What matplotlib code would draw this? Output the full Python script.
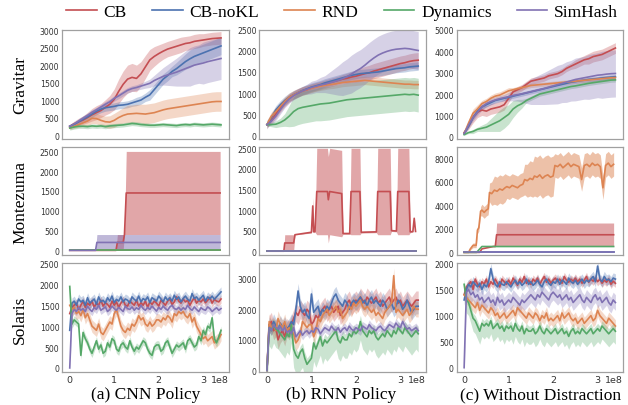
#! /usr/bin/env python3
import numpy as np
import matplotlib
matplotlib.use("Agg")
import matplotlib.pyplot as plt

methods = ["CB", "CB-noKL", "RND", "Dynamics", "SimHash"]
colors = ["#C44E52", "#4C72B0", "#DD8452", "#55A868", "#8172B3"]
games = ["Gravitar", "Montezuma", "Solaris"]
settings = ["(a) CNN Policy", "(b) RNN Policy", "(c) Without Distraction"]

# training steps, in units of 1e8
steps_coarse = np.linspace(0.0, 3.4, 35)
steps_fine = np.linspace(0.0, 3.4, 69)

# ---------------- Gravitar ----------------
grav_cnn = {
    "CB": [250, 320, 380, 430, 500, 580, 640, 700, 790, 880,
           1020, 1250, 1450, 1600, 1650, 1620, 1750, 1950, 2150, 2250,
           2330, 2400, 2460, 2500, 2540, 2580, 2620, 2640, 2680, 2700,
           2720, 2740, 2760, 2770, 2780],
    "CB-noKL": [250, 300, 380, 450, 520, 600, 680, 740, 780, 800,
                820, 850, 860, 880, 920, 960, 1000, 1080, 1150, 1300,
                1450, 1600, 1700, 1820, 1900, 2000, 2100, 2180, 2250, 2300,
                2350, 2400, 2450, 2500, 2550],
    "RND": [200, 250, 300, 350, 400, 480, 470, 420, 380, 370,
            420, 500, 560, 600, 610, 620, 610, 600, 620, 640,
            680, 720, 750, 770, 790, 810, 830, 850, 870, 890,
            910, 930, 950, 960, 960],
    "Dynamics": [200, 230, 250, 250, 240, 260, 250, 260, 240, 260,
                 270, 280, 290, 310, 330, 320, 300, 290, 280, 280,
                 290, 300, 290, 280, 270, 290, 300, 290, 310, 300,
                 290, 300, 310, 300, 290],
    "SimHash": [250, 320, 400, 480, 560, 650, 720, 800, 880, 950,
                1050, 1120, 1200, 1280, 1330, 1360, 1400, 1440, 1480, 1560,
                1620, 1680, 1720, 1760, 1800, 1850, 1900, 1950, 2000, 2030,
                2060, 2100, 2130, 2160, 2190],
}
grav_cnn_std = {
    "CB": [50, 80, 100, 120, 150, 180, 200, 200, 220, 250,
           300, 350, 380, 400, 400, 380, 350, 330, 300, 280,
           250, 230, 220, 220, 220, 220, 200, 200, 200, 200,
           180, 180, 180, 180, 180],
    "CB-noKL": [50, 60, 80, 100, 100, 100, 100, 100, 100, 100,
                100, 100, 100, 100, 100, 120, 120, 120, 150, 150,
                150, 150, 150, 150, 180, 200, 220, 250, 250, 250,
                250, 250, 250, 250, 250],
    "RND": [40, 60, 80, 100, 130, 150, 150, 150, 160, 180,
            200, 200, 220, 250, 250, 260, 270, 280, 280, 280,
            280, 280, 280, 280, 280, 280, 280, 280, 280, 280,
            280, 280, 280, 280, 280],
    "Dynamics": 60,
    "SimHash": [40, 50, 60, 60, 60, 70, 70, 80, 80, 80,
                80, 80, 80, 80, 80, 80, 90, 100, 120, 150,
                200, 250, 300, 350, 400, 450, 500, 550, 550, 550,
                600, 600, 600, 600, 600],
}

grav_rnn = {
    "CB": [250, 350, 500, 650, 780, 880, 950, 1000, 1050, 1080,
           1120, 1150, 1180, 1210, 1240, 1270, 1300, 1330, 1350, 1380,
           1400, 1430, 1460, 1480, 1520, 1550, 1580, 1610, 1640, 1670,
           1700, 1720, 1750, 1770, 1780],
    "CB-noKL": [250, 420, 600, 720, 820, 900, 960, 1010, 1060, 1100,
                1140, 1170, 1200, 1240, 1270, 1300, 1330, 1360, 1390, 1420,
                1440, 1460, 1470, 1480, 1490, 1500, 1520, 1540, 1560, 1580,
                1590, 1600, 1620, 1630, 1640],
    "RND": [250, 450, 560, 680, 800, 900, 960, 1010, 1050, 1080,
            1110, 1140, 1160, 1180, 1200, 1210, 1230, 1250, 1260, 1270,
            1280, 1290, 1300, 1290, 1280, 1270, 1260, 1250, 1240, 1230,
            1220, 1210, 1210, 1200, 1200],
    "Dynamics": [250, 250, 260, 300, 360, 450, 560, 630, 660, 680,
                 700, 720, 740, 750, 760, 780, 800, 820, 840, 850,
                 860, 870, 880, 890, 900, 910, 920, 930, 940, 950,
                 960, 970, 960, 970, 950],
    "SimHash": [250, 330, 450, 600, 750, 860, 940, 1000, 1050, 1090,
                1130, 1160, 1190, 1210, 1240, 1270, 1300, 1340, 1390, 1450,
                1520, 1580, 1660, 1750, 1830, 1900, 1950, 1990, 2020, 2040,
                2050, 2060, 2050, 2030, 2010],
}
grav_rnn_std = {
    "CB": [60, 80, 100, 100, 100, 100, 100, 100, 100, 100,
           100, 100, 100, 100, 100, 100, 100, 110, 120, 130,
           150, 160, 170, 180, 180, 180, 180, 180, 180, 180,
           180, 180, 180, 180, 180],
    "CB-noKL": 100,
    "RND": 100,
    "Dynamics": [30, 50, 80, 100, 150, 250, 350, 380, 380, 380,
                 380, 380, 400, 400, 400, 400, 400, 400, 400, 400,
                 400, 400, 400, 400, 400, 400, 400, 400, 400, 400,
                 400, 400, 400, 400, 400],
    "SimHash": [60, 80, 100, 100, 100, 100, 100, 100, 100, 120,
                150, 150, 180, 200, 250, 300, 350, 400, 420, 450,
                450, 450, 450, 450, 450, 450, 450, 450, 450, 450,
                450, 450, 450, 450, 450],
}

grav_nodist = {
    "CB": [200, 500, 900, 1150, 1250, 1200, 1300, 1350, 1400, 1500,
           1800, 2100, 2200, 2300, 2450, 2600, 2650, 2700, 2750, 2850,
           2900, 2950, 3050, 3200, 3300, 3400, 3500, 3600, 3650, 3750,
           3800, 3850, 3950, 4050, 4150],
    "CB-noKL": [150, 500, 900, 1200, 1400, 1500, 1600, 1700, 1750, 1800,
                1850, 1900, 1950, 2000, 2050, 2100, 2150, 2200, 2250, 2300,
                2350, 2400, 2450, 2500, 2550, 2580, 2620, 2650, 2680, 2700,
                2720, 2750, 2770, 2790, 2810],
    "RND": [150, 650, 1100, 1300, 1550, 1650, 1800, 1900, 1950, 2050,
            2150, 2200, 2250, 2300, 2350, 2400, 2420, 2440, 2460, 2480,
            2500, 2520, 2540, 2560, 2580, 2600, 2620, 2640, 2660, 2680,
            2700, 2720, 2740, 2760, 2770],
    "Dynamics": [100, 200, 250, 350, 400, 450, 550, 650, 750, 900,
                 1050, 1300, 1450, 1550, 1700, 1800, 1900, 2000, 2050, 2100,
                 2150, 2200, 2250, 2300, 2350, 2380, 2420, 2460, 2500, 2530,
                 2560, 2590, 2620, 2650, 2660],
    "SimHash": [150, 550, 900, 1150, 1400, 1550, 1650, 1720, 1780, 1830,
                1880, 1930, 1970, 2010, 2060, 2110, 2160, 2210, 2260, 2320,
                2380, 2440, 2500, 2560, 2620, 2680, 2720, 2760, 2800, 2840,
                2880, 2900, 2930, 2950, 2960],
}
grav_nodist_std = {
    "CB": [50, 150, 250, 250, 250, 250, 250, 250, 250, 250,
           200, 150, 150, 150, 150, 150, 150, 150, 150, 150,
           150, 150, 150, 150, 150, 200, 200, 200, 250, 250,
           250, 250, 250, 250, 250],
    "CB-noKL": 100,
    "RND": [50, 150, 200, 200, 150, 150, 150, 150, 150, 150,
            150, 100, 100, 100, 100, 100, 100, 100, 100, 100,
            100, 100, 100, 100, 100, 100, 100, 100, 100, 100,
            100, 100, 100, 100, 100],
    "Dynamics": [30, 50, 100, 100, 150, 200, 300, 400, 500, 500,
                 450, 400, 300, 200, 100, 100, 100, 100, 100, 100,
                 100, 100, 100, 100, 100, 100, 100, 100, 100, 100,
                 100, 100, 100, 100, 100],
    "SimHash": [50, 100, 150, 150, 150, 150, 150, 150, 150, 150,
                200, 250, 300, 400, 500, 600, 650, 700, 750, 800,
                850, 900, 900, 950, 950, 1000, 1000, 1000, 1050, 1050,
                1050, 1100, 1100, 1100, 1100],
}

# ---------------- Montezuma (step-like curves, own x per method) ----------------
mont_cnn_x = {
    "CB": [0, 1.04, 1.07, 1.20, 1.23, 1.27, 3.38],
    "CB-noKL": [0, 3.38], "RND": [0, 3.38], "Dynamics": [0, 3.38],
    "SimHash": [0, 0.58, 0.61, 3.38],
}
mont_cnn = {
    "CB": [0, 0, 200, 200, 400, 1450, 1450],
    "CB-noKL": [0, 0], "RND": [0, 0], "Dynamics": [0, 0],
    "SimHash": [0, 0, 200, 200],
}
mont_cnn_std = {
    "CB": [0, 0, 200, 200, 0, 1050, 1050],
    "CB-noKL": 0, "RND": 0, "Dynamics": 0,
    "SimHash": [0, 0, 200, 200],
}

mont_rnn_x = {
    "CB": [0, 0.38, 0.40, 0.60, 0.63, 1.00, 1.03, 1.05, 1.08, 1.12,
           1.36, 1.38, 1.41, 1.68, 1.71, 1.86, 1.89, 2.09, 2.12, 2.46,
           2.49, 2.77, 2.80, 2.91, 2.94, 3.19, 3.22, 3.28, 3.31, 3.34],
    "CB-noKL": [0, 3.34], "RND": [0, 3.34], "Dynamics": [0, 3.34],
    "SimHash": [0, 3.34],
}
mont_rnn = {
    "CB": [0, 0, 200, 200, 400, 460, 1100, 470, 480, 1450,
           1450, 1250, 1450, 1400, 430, 430, 1450, 1450, 460, 470,
           1450, 1450, 500, 490, 1450, 1450, 470, 480, 800, 480],
    "CB-noKL": [0, 0], "RND": [0, 0], "Dynamics": [0, 0], "SimHash": [0, 0],
}
mont_rnn_std = {
    "CB": [0, 0, 200, 200, 0, 20, 200, 20, 20, 1050,
           1050, 1050, 1050, 1050, 20, 20, 1050, 1050, 20, 20,
           1050, 1050, 20, 20, 1050, 1050, 20, 20, 20, 20],
    "CB-noKL": 0, "RND": 0, "Dynamics": 0, "SimHash": 0,
}

mont_nodist_x = {
    "CB": [0, 0.35, 0.40, 0.66, 0.70, 0.73, 3.36],
    "CB-noKL": [0, 3.36],
    "RND": [0, 0.10, 0.14, 0.20, 0.27, 0.30, 0.33, 0.37, 0.40, 0.45,
            0.50, 0.54, 0.57, 0.62, 0.68, 0.74, 0.80, 0.86, 0.92, 0.96,
            1.02, 1.08, 1.14, 1.20, 1.26, 1.32, 1.36, 1.42, 1.48, 1.54,
            1.58, 1.64, 1.70, 1.76, 1.82, 1.88, 1.94, 2.00, 2.04, 2.10,
            2.16, 2.22, 2.28, 2.34, 2.40, 2.46, 2.52, 2.58, 2.64, 2.70,
            2.76, 2.82, 2.88, 2.94, 3.00, 3.06, 3.12, 3.18, 3.24, 3.30,
            3.36],
    "Dynamics": [0, 0.28, 0.40, 3.36],
    "SimHash": [0, 3.36],
}
mont_nodist = {
    "CB": [0, 0, 300, 500, 500, 1500, 1500],
    "CB-noKL": [0, 0],
    "RND": [0, 0, 300, 600, 600, 1900, 2100, 3500, 3600, 3400,
            3600, 3700, 5100, 5000, 5300, 5200, 5400, 5300, 5500, 5600,
            5500, 5700, 5600, 5500, 5700, 5800, 6200, 6100, 6300, 6200,
            6500, 6400, 6600, 6300, 6500, 6600, 6400, 6500, 7400, 7300,
            7500, 7200, 7400, 7600, 7300, 7500, 7400, 7300, 6200, 7400,
            7500, 7300, 7600, 7400, 7500, 7300, 5500, 7400, 7600, 7300,
            7500],
    "Dynamics": [0, 0, 500, 500],
    "SimHash": [0, 0],
}
mont_nodist_std = {
    "CB": [0, 0, 0, 0, 0, 1000, 1000],
    "CB-noKL": 0,
    "RND": [0, 0, 100, 200, 200, 300, 300, 400, 500, 500,
            500, 500, 800, 1000, 1200, 1200, 1200, 1200, 1200, 1000,
            1000, 1000, 1000, 1000, 1000, 1000, 1300, 1400, 1500, 1500,
            1700, 1700, 1700, 1700, 1700, 1700, 1700, 1700, 1000, 1000,
            1000, 1000, 1000, 1000, 1000, 1000, 1000, 1000, 1000, 1000,
            1000, 1000, 1000, 1000, 1000, 1000, 1000, 1000, 1000, 1000,
            1000],
    "Dynamics": 0,
    "SimHash": 0,
}

# ---------------- Solaris (noisy) ----------------
sol_cnn = {
    "CB": [1300, 1450, 1500, 1550, 1400, 1500, 1600, 1450, 1550, 1500,
           1600, 1450, 1550, 1500, 1620, 1480, 1560, 1520, 1450, 1600,
           1500, 1580, 1450, 1550, 1620, 1500, 1480, 1600, 1550, 1500,
           1620, 1480, 1560, 1500, 1600, 1450, 1580, 1520, 1600, 1550,
           1480, 1620, 1560, 1500, 1600, 1650, 1520, 1580, 1700, 1600,
           1550, 1650, 1580, 1620, 1500, 1600, 1680, 1550, 1620, 1580,
           1650, 1560, 1620, 1680, 1550, 1640, 1600, 1580, 1650],
    "CB-noKL": [900, 1550, 1600, 1500, 1650, 1580, 1620, 1500, 1680, 1550,
                1600, 1650, 1520, 1700, 1580, 1620, 1550, 1680, 1600, 1720,
                1560, 1640, 1600, 1700, 1580, 1650, 1620, 1550, 1700, 1640,
                1600, 1720, 1580, 1660, 1620, 1700, 1560, 1680, 1640, 1600,
                1720, 1650, 1580, 1700, 1620, 1680, 1600, 1740, 1640, 1700,
                1580, 1660, 1720, 1640, 1600, 1780, 1660, 1700, 1620, 1680,
                1740, 1600, 1700, 1650, 1720, 1640, 1700, 1760, 1820],
    "RND": [1500, 1400, 1450, 1300, 1350, 1250, 1400, 1200, 1300, 1150,
            1000, 950, 900, 1050, 850, 800, 900, 1000, 1100, 1050,
            1300, 1400, 1200, 1000, 900, 850, 950, 900, 1050, 1000,
            1100, 1250, 1150, 1200, 1050, 1000, 1100, 1000, 1050, 1150,
            1150, 1100, 1200, 1150, 1250, 1200, 1100, 1300, 1250, 1350,
            1300, 1350, 1250, 1200, 1300, 1100, 1200, 1000, 900, 800,
            700, 750, 650, 700, 750, 600, 650, 700, 800],
    "Dynamics": [1950, 1050, 1150, 1100, 1050, 300, 850, 700, 600, 450,
                 350, 500, 650, 450, 550, 350, 400, 600, 500, 700,
                 650, 450, 400, 550, 600, 500, 450, 650, 500, 400,
                 500, 450, 550, 650, 600, 450, 350, 300, 500, 550,
                 550, 400, 450, 600, 650, 500, 350, 450, 550, 500,
                 550, 600, 450, 650, 700, 600, 500, 550, 750, 650,
                 900, 800, 1000, 950, 1200, 700, 600, 750, 900],
    "SimHash": [0, 1300, 1400, 1350, 1450, 1380, 1420, 1350, 1480, 1400,
                1350, 1450, 1400, 1500, 1380, 1420, 1460, 1350, 1400, 1480,
                1420, 1380, 1450, 1400, 1350, 1480, 1420, 1400, 1460, 1380,
                1440, 1400, 1500, 1420, 1380, 1450, 1400, 1480, 1420, 1360,
                1450, 1400, 1480, 1420, 1380, 1460, 1500, 1420, 1400, 1450,
                1380, 1440, 1400, 1500, 1420, 1380, 1460, 1400, 1350, 1440,
                1400, 1380, 1460, 1420, 1350, 1400, 1440, 1380, 1420],
}
sol_cnn_std = {"CB": 100, "CB-noKL": 120, "RND": 150, "Dynamics": 100, "SimHash": 100}

sol_rnn = {
    "CB": [0, 1500, 1600, 1300, 1400, 1000, 1200, 1300, 1100, 1400,
           1300, 1500, 1700, 1900, 1800, 2000, 1900, 1800, 2000, 1900,
           1500, 1600, 1800, 1700, 1900, 2000, 2100, 1900, 2000, 2100,
           1900, 2000, 2100, 1800, 1900, 2000, 2200, 2300, 2100, 2200,
           2300, 2200, 2400, 2300, 2200, 2400, 2300, 2200, 2300, 2400,
           2200, 2300, 2100, 2200, 2300, 2400, 2200, 2300, 2400, 2200,
           2300, 2100, 2200, 2300, 2200, 2100, 2200, 2300, 2300],
    "CB-noKL": [0, 1500, 1400, 1600, 1450, 1300, 1550, 1400, 1500, 1350,
                1450, 1600, 1500, 2000, 2600, 2100, 1900, 2000, 1800, 1700,
                2500, 1900, 2000, 2100, 1800, 2000, 1900, 2100, 2000, 2200,
                2400, 2500, 2300, 2200, 2100, 2300, 2200, 2000, 2200, 2300,
                2200, 2300, 2400, 2200, 2300, 2100, 2300, 2400, 2200, 2300,
                2200, 2100, 2300, 2200, 2000, 2100, 2200, 2000, 2100, 2300,
                2200, 2000, 2100, 2300, 2100, 1900, 2000, 2100, 2100],
    "RND": [0, 1600, 1400, 1500, 1300, 1700, 1500, 1400, 1600, 1300,
            1400, 1300, 1200, 900, 1000, 1200, 1600, 1500, 1400, 1500,
            1500, 1100, 1300, 1700, 1600, 1800, 1900, 2000, 1800, 1900,
            2000, 2100, 1900, 2000, 1700, 1800, 1900, 2100, 2000, 2200,
            2100, 2200, 2300, 2100, 2000, 2100, 2000, 1900, 2000, 1800,
            1900, 1800, 1700, 1900, 2000, 2100, 2200, 3100, 1900, 2000,
            1900, 1800, 1900, 2000, 1800, 1900, 2100, 2000, 2000],
    "Dynamics": [0, 1400, 1300, 1500, 1350, 1300, 1200, 1100, 1000, 1200,
                 1100, 1500, 700, 500, 400, 600, 700, 400, 200, 300,
                 400, 900, 700, 900, 1100, 800, 1000, 900, 1000, 1100,
                 1200, 1300, 1000, 900, 1100, 1000, 1000, 1200, 1100, 1300,
                 1200, 1300, 1600, 1300, 1200, 1100, 1300, 1200, 1300, 1100,
                 1000, 1100, 1200, 1100, 1300, 1200, 1100, 1300, 1200, 1400,
                 1300, 1200, 1400, 1300, 1200, 1100, 1200, 1300, 1200],
    "SimHash": [0, 1400, 1300, 1500, 1400, 1350, 1450, 1300, 1400, 1250,
                1300, 1200, 1400, 1100, 1200, 1300, 1150, 1250, 1300, 1200,
                1300, 1250, 1400, 1350, 1200, 1300, 1400, 1350, 1300, 1450,
                1350, 1300, 1400, 1250, 1350, 1400, 1300, 1450, 1350, 1300,
                1400, 1350, 1300, 1450, 1400, 1350, 1500, 1400, 1350, 1300,
                1400, 1450, 1350, 1300, 1400, 1500, 1450, 1400, 1550, 1450,
                1400, 1600, 1450, 1350, 1400, 1300, 1350, 1400, 1300],
}
sol_rnn_std = {"CB": 300, "CB-noKL": 250, "RND": 250, "Dynamics": (600, 200), "SimHash": 150}

sol_nodist = {
    "CB": [1400, 1550, 1600, 1650, 1500, 1700, 1600, 1550, 1650, 1600,
           1700, 1550, 1650, 1600, 1700, 1620, 1550, 1700, 1650, 1600,
           1680, 1600, 1720, 1650, 1580, 1700, 1640, 1750, 1620, 1680,
           1600, 1700, 1650, 1720, 1600, 1680, 1750, 1640, 1700, 1620,
           1680, 1720, 1650, 1700, 1620, 1750, 1680, 1640, 1700, 1660,
           1720, 1650, 1700, 1620, 1680, 1750, 1640, 1700, 1660, 1720,
           1650, 1700, 1620, 1680, 1640, 1700, 1600, 1660, 1620],
    "CB-noKL": [1300, 1500, 1600, 1550, 1650, 1600, 1550, 1620, 1500, 1600,
                1550, 1650, 1900, 1700, 1600, 1550, 1650, 1600, 1580, 1650,
                1600, 1550, 1620, 1680, 1600, 1650, 1580, 1620, 1700, 1600,
                1650, 1580, 1620, 1680, 1600, 1550, 1650, 1700, 1620, 1580,
                1650, 1620, 1700, 1600, 1680, 1650, 1600, 1720, 1650, 1620,
                1680, 1600, 1650, 1700, 1620, 1680, 1650, 1700, 1750, 1650,
                1950, 1700, 1650, 1750, 1680, 1700, 1650, 1720, 1700],
    "RND": [1400, 1350, 1300, 1250, 1200, 1150, 1250, 1100, 1200, 1150,
            1100, 1050, 1150, 1100, 1000, 1050, 950, 1000, 1050, 950,
            1000, 1050, 1100, 1000, 1150, 1100, 1050, 1000, 950, 1050,
            1000, 950, 1050, 1000, 900, 1000, 950, 1050, 900, 950,
            900, 950, 1000, 900, 1050, 950, 1000, 1050, 950, 900,
            950, 850, 900, 950, 850, 900, 950, 1000, 900, 950,
            1100, 1000, 950, 900, 850, 950, 900, 850, 800],
    "Dynamics": [1600, 1300, 1250, 1100, 950, 900, 800, 700, 850, 800,
                 850, 800, 900, 750, 800, 850, 750, 800, 700, 800,
                 750, 800, 700, 850, 750, 700, 800, 650, 750, 700,
                 700, 750, 650, 700, 800, 700, 650, 750, 700, 650,
                 700, 750, 650, 700, 750, 650, 700, 600, 700, 750,
                 650, 700, 650, 750, 700, 650, 700, 750, 650, 700,
                 750, 700, 800, 750, 700, 650, 700, 750, 700],
    "SimHash": [0, 1450, 1500, 1400, 1450, 1350, 1400, 1300, 1350, 1250,
                1300, 1350, 1250, 1300, 1200, 1350, 1250, 1300, 1200, 1250,
                1300, 1250, 1350, 1300, 1250, 1200, 1300, 1250, 1300, 1350,
                1400, 1350, 1300, 1400, 1350, 1450, 1400, 1350, 1300, 1400,
                1450, 1400, 1350, 1400, 1300, 1350, 1400, 1300, 1350, 1250,
                1300, 1350, 1400, 1300, 1250, 1350, 1300, 1250, 1350, 1400,
                1300, 1350, 1250, 1300, 1350, 1250, 1200, 1300, 1250],
}
sol_nodist_std = {"CB": 80, "CB-noKL": 100, "RND": 120, "Dynamics": (250, 100), "SimHash": 150}

yticks = [
    [[0, 500, 1000, 1500, 2000, 2500, 3000], [0, 500, 1000, 1500, 2000, 2500],
     [0, 1000, 2000, 3000, 4000, 5000]],
    [[0, 500, 1000, 1500, 2000, 2500], [0, 500, 1000, 1500, 2000, 2500],
     [0, 2000, 4000, 6000, 8000]],
    [[0, 500, 1000, 1500, 2000, 2500], [0, 1000, 2000, 3000],
     [0, 500, 1000, 1500, 2000]],
]
ylims = [
    [(-100, 3010), (-80, 2500), (-80, 5000)],
    [(-125, 2620), (-100, 2540), (-250, 9000)],
    [(-100, 2500), (-55, 3500), (-85, 2000)],
]


def draw_curve(ax, x, mean, spread, color, alpha):
    """Mean curve with a shaded spread band."""
    mean = np.asarray(mean, dtype=float)
    if isinstance(spread, tuple):
        down, up = spread
    else:
        down = up = spread
    lo = mean - np.asarray(down, dtype=float)
    hi = mean + np.asarray(up, dtype=float)
    ax.fill_between(x, lo, hi, color=color, alpha=alpha, lw=0)
    ax.plot(x, mean, color=color, lw=1.2)


def main():
    panels = [
        [(grav_cnn, grav_cnn_std, steps_coarse), (grav_rnn, grav_rnn_std, steps_coarse),
         (grav_nodist, grav_nodist_std, steps_coarse)],
        [(mont_cnn, mont_cnn_std, mont_cnn_x), (mont_rnn, mont_rnn_std, mont_rnn_x),
         (mont_nodist, mont_nodist_std, mont_nodist_x)],
        [(sol_cnn, sol_cnn_std, steps_fine), (sol_rnn, sol_rnn_std, steps_fine),
         (sol_nodist, sol_nodist_std, steps_fine)],
    ]
    band_alpha = [0.32, 0.5, 0.3]

    fig, axes = plt.subplots(3, 3, figsize=(6.28, 4.06), dpi=100)
    fig.subplots_adjust(left=0.099, right=0.992, top=0.924, bottom=0.081,
                        wspace=0.185, hspace=0.075)

    for r in range(3):
        for c in range(3):
            ax = axes[r, c]
            means, stds, xs = panels[r][c]
            for m, col in zip(methods, colors):
                x = xs[m] if isinstance(xs, dict) else xs
                draw_curve(ax, x, means[m], stds[m], col, band_alpha[r])
            ax.set_xlim(-0.17, 3.57)
            ax.set_ylim(*ylims[r][c])
            ax.set_yticks(yticks[r][c])
            ax.set_xticks([0, 1, 2, 3])
            ax.tick_params(length=0, pad=2, labelcolor="#333333")
            ax.tick_params(axis="y", labelsize=5.6)
            ax.tick_params(axis="x", labelsize=6.8)
            for s in ax.spines.values():
                s.set_color("#a0a0a0")
                s.set_linewidth(0.9)
            if r < 2:
                ax.set_xticklabels([])
            else:
                ax.annotate("1e8", xy=(1, 0), xycoords="axes fraction",
                            xytext=(0, -2), textcoords="offset points",
                            ha="right", va="top", fontsize=6.8, color="#333333")

    serif = "Liberation Serif"
    row_y = [0.79, 0.50, 0.213]
    for g, y in zip(games, row_y):
        fig.text(0.032, y, g, rotation=90, ha="center", va="center",
                 family=serif, fontsize=12.5)
    col_x = [0.2325, 0.543, 0.861]
    for s, x in zip(settings, col_x):
        fig.text(x, 0.027, s, ha="center", va="center", family=serif, fontsize=12.5)

    handles = [plt.Line2D([], [], color=col, lw=1.2) for col in colors]
    fig.legend(handles, methods, loc="center", bbox_to_anchor=(0.545, 0.968),
               ncol=5, frameon=False, prop={"family": serif, "size": 12.5},
               handlelength=1.75, columnspacing=1.45, handletextpad=0.4,
               borderpad=0.2)

    fig.savefig("out.png", dpi=100)


if __name__ == "__main__":
    main()
